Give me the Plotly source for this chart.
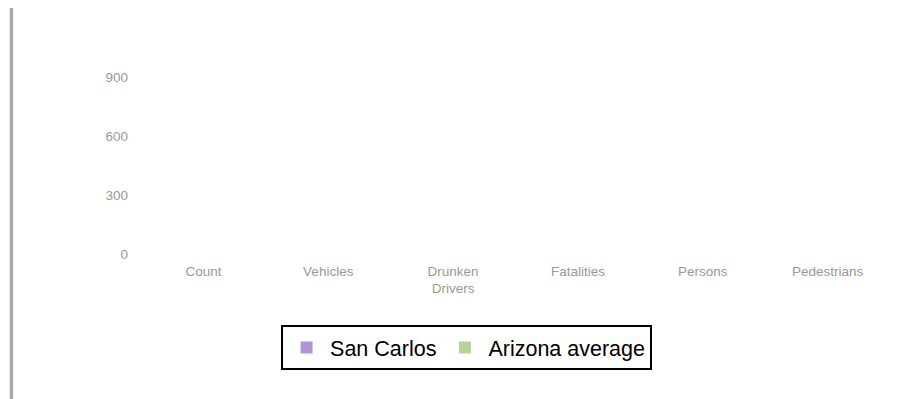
import plotly.graph_objects as go

# Categories and per-category values for each series
categories = ["Count", "Vehicles", "Drunken<br>Drivers", "Fatalities", "Persons", "Pedestrians"]
san_carlos = [0, 0, 0, 0, 0, 0]
arizona_average = [0, 0, 0, 0, 0, 0]
y_ticks = [0, 300, 600, 900]

W, H = 911, 399
L, R, T, B = 140.5, 20.5, 18, 145

def px_to_paper_x(px):
    return (px - L) / (W - L - R)

def px_to_paper_y(py):
    return (H - B - py) / (H - T - B)

fig = go.Figure()
fig.add_trace(go.Bar(
    name="San Carlos", x=categories, y=san_carlos,
    marker=dict(color="#b194d3", line=dict(width=0)),
))
fig.add_trace(go.Bar(
    name="Arizona average", x=categories, y=arizona_average,
    marker=dict(color="#b8d198", line=dict(width=0)),
))

# Grey rule running down the left side of the page
fig.add_shape(
    type="rect", xref="paper", yref="paper",
    x0=px_to_paper_x(9), x1=px_to_paper_x(12.5),
    y0=px_to_paper_y(400), y1=px_to_paper_y(8),
    fillcolor="#aaaaaa", line=dict(width=0), layer="below",
)

fig.update_layout(
    width=W, height=H,
    margin=dict(l=L, r=R, t=T, b=B),
    paper_bgcolor="white", plot_bgcolor="white",
    barmode="group",
    font=dict(family="Liberation Sans, Arial, sans-serif", color="#999999", size=13),
    xaxis=dict(
        showgrid=False, zeroline=False, showline=False,
        tickfont=dict(size=13.5, color="#999999"),
        ticklabelstandoff=7,
    ),
    yaxis=dict(
        range=[0, 1200], tickvals=y_ticks,
        showgrid=False, zeroline=False, showline=False,
        tickfont=dict(size=13.5, color="#999999"),
        ticklabelstandoff=12,
    ),
    legend=dict(
        orientation="h",
        x=px_to_paper_x(466.5), xanchor="center",
        y=px_to_paper_y(325), yanchor="top",
        bordercolor="#000000", borderwidth=2,
        itemwidth=37,
        font=dict(size=21.5, color="#000000", family="Liberation Sans, Arial, sans-serif"),
        bgcolor="white",
    ),
    showlegend=True,
)

fig.write_html("out.html")
